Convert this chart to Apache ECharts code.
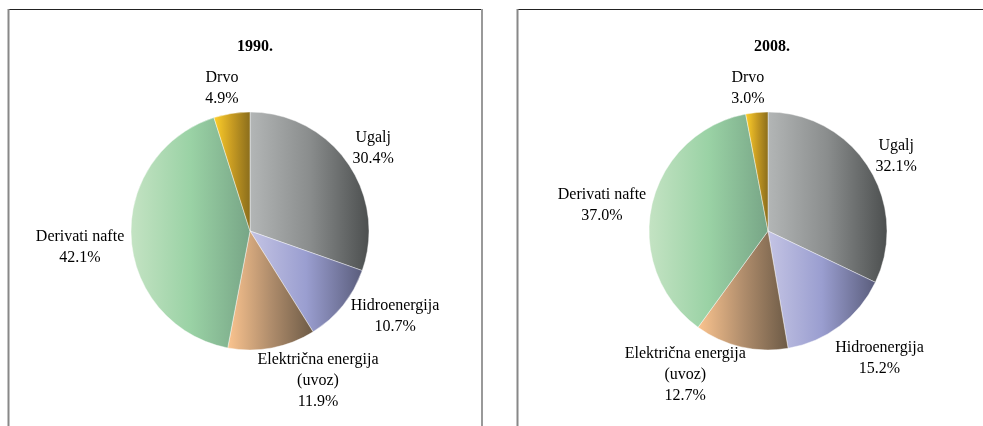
<!DOCTYPE html>
<html>
<head>
<meta charset="utf-8">
<script src="https://cdn.jsdelivr.net/npm/echarts@6/dist/echarts.min.js"></script>
<style>
  html, body { margin: 0; padding: 0; background: #fff; }
  #chart { width: 983px; height: 426px; }
</style>
</head>
<body>
<div id="chart"></div>
<script>
// data
const categories = ['Ugalj', 'Hidroenergija', 'Električna energija\n(uvoz)', 'Derivati nafte', 'Drvo'];
const years = ['1990.', '2008.'];
const values1990 = [30.4, 10.7, 11.9, 42.1, 4.9];
const values2008 = [32.1, 15.2, 12.7, 37.0, 3.0];

// slice gradients, light (left) -> dark (right)
const sliceColors = [
  ['#b3b6b6', '#8a8d8d', '#4c4f4f'],
  ['#c4c4e4', '#9a9ed0', '#5a5d7c'],
  ['#fbc48f', '#b08d6c', '#6c5a46'],
  ['#c4e3c3', '#9ad2a5', '#77a586'],
  ['#ffd02a', '#c79b22', '#8a6d1c']
];

// small nudges of the labels (excel puts them a bit differently)
const labelNudge = [
  [[-11, -6], [-8, 2], [-22, 19], [12, 8], [14, -11]],
  [[-10, -4], [-18, 21], [13, 14], [13, 3], [14, -10]]
];

function grad(c) {
  return {
    type: 'linear', x: 0, y: 0, x2: 1, y2: 0,
    colorStops: [
      { offset: 0, color: c[0] },
      { offset: 0.5, color: c[1] },
      { offset: 1, color: c[2] }
    ]
  };
}

function pieSeries(values, center, idx) {
  return {
    type: 'pie',
    center: center,
    radius: 119,
    startAngle: 90,
    clockwise: true,
    avoidLabelOverlap: false,
    animation: false,
    silent: true,
    data: categories.map((name, i) => ({
      name: name,
      value: values[i],
      itemStyle: { color: grad(sliceColors[i]) }
    })),
    itemStyle: { borderColor: 'rgba(255,255,255,0.7)', borderWidth: 0.6 },
    label: {
      show: true,
      position: 'outside',
      formatter: p => p.name + '\n' + p.value.toFixed(1) + '%',
      fontFamily: 'Liberation Serif',
      fontSize: 16,
      lineHeight: 21,
      color: '#000'
    },
    labelLine: { show: false, length: 14, length2: 0 },
    labelLayout: p => {
      const r = p.labelRect;
      const n = labelNudge[idx][p.dataIndex];
      return {
        x: r.x + r.width / 2 + n[0],
        y: r.y + r.height / 2 + n[1],
        align: 'center',
        verticalAlign: 'middle'
      };
    }
  };
}

const titleStyle = { fontFamily: 'Liberation Serif', fontSize: 16, fontWeight: 'bold', color: '#000' };

const chart = echarts.init(document.getElementById('chart'));
chart.setOption({
  backgroundColor: '#fff',
  title: [
    { text: years[0], left: 250, top: 34, textAlign: 'center', textStyle: titleStyle },
    { text: years[1], left: 767, top: 34, textAlign: 'center', textStyle: titleStyle }
  ],
  graphic: [
    { type: 'line', shape: { x1: 8, y1: 9.5, x2: 483, y2: 9.5 }, style: { stroke: '#222', lineWidth: 1 } },
    { type: 'line', shape: { x1: 8.5, y1: 9, x2: 8.5, y2: 426 }, style: { stroke: '#888', lineWidth: 2 } },
    { type: 'line', shape: { x1: 482, y1: 9, x2: 482, y2: 426 }, style: { stroke: '#999', lineWidth: 2 } },
    { type: 'line', shape: { x1: 517, y1: 9.5, x2: 983, y2: 9.5 }, style: { stroke: '#222', lineWidth: 1 } },
    { type: 'line', shape: { x1: 517.5, y1: 9, x2: 517.5, y2: 426 }, style: { stroke: '#888', lineWidth: 2 } }
  ],
  series: [
    pieSeries(values1990, [250, 231], 0),
    pieSeries(values2008, [768, 231], 1)
  ]
});
</script>
</body>
</html>
